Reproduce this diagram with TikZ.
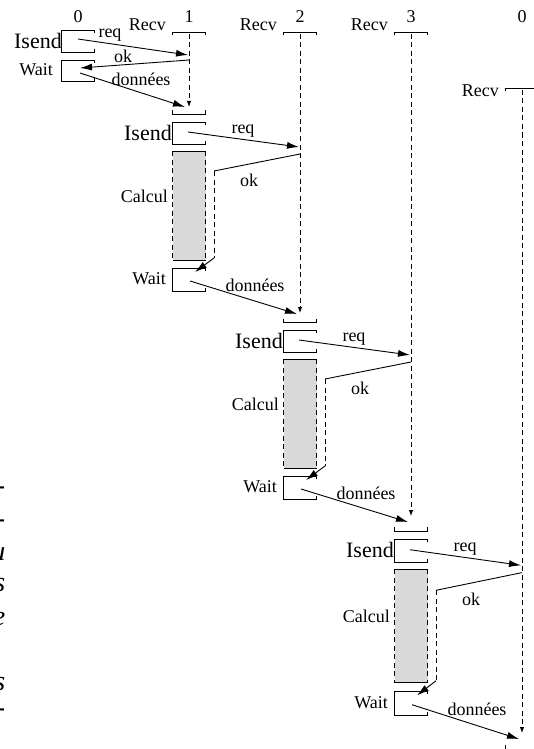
\documentclass[tikz,border=0pt]{standalone}
\usepackage{fontspec}
\setmainfont{Liberation Serif}
\usetikzlibrary{arrows.meta}
\newcommand\OpBox[2]{\draw[ln] (16.5,{#1+3}) -- (16.5,#1) -- (-16.5,#1) -- (-16.5,#2) -- (16.5,#2) -- (16.5,{#2-3});}
\newcommand\BotBr[1]{\draw[ln] (-16.5,{#1-3.5}) -- (-16.5,#1) -- (16.5,#1) -- (16.5,{#1-3.5});}
\newcommand\TopBr[1]{\draw[ln] (-16.5,{#1+3.5}) -- (-16.5,#1) -- (16.5,#1) -- (16.5,{#1+3.5});}
\newcommand\Round[4]{%
\begin{scope}[shift={(#2,#3)},yscale=#4]
\BotBr{0}
\OpBox{8}{30}
\fill[calc] (-16.5,37) rectangle (16.5,146);
\draw[ln] (-16.5,37) -- (16.5,37) (-16.5,146) -- (16.5,146);
\draw[dsh] (-16.5,37) -- (-16.5,146) (16.5,37) -- (16.5,146);
\OpBox{154}{177}
\node[big,anchor=east] (#1isend) at (-17,18.5) {Isend};
\node[anchor=east] (#1calc) at (-21,82) {Calcul};
\node[anchor=east] (#1wait) at (-23,165) {Wait};
\coordinate (#1rq0) at (-1,18);
\coordinate (#1rq1) at (110,33);
\coordinate (#1ok0) at (111,40);
\coordinate (#1ok1) at (25,57);
\coordinate (#1ok2) at (25,144);
\coordinate (#1ok3) at (6,158);
\coordinate (#1dn0) at (1,167);
\coordinate (#1dn1) at (108,200);
\draw[msg] (#1rq0) -- (#1rq1);
\draw[ln] (#1ok0) -- (#1ok1);
\draw[dsh] (#1ok1) -- (#1ok2);
\draw[msg] (#1ok2) -- (#1ok3);
\draw[msg] (#1dn0) -- (#1dn1);
\node (#1req) at (54,17) {req};
\node (#1ok) at (60,66) {ok};
\node (#1don) at (66,171) {données};
\end{scope}}
\begin{document}
\begin{tikzpicture}[x=1pt,y=-1pt,
  every node/.style={inner sep=0pt, font=\fontsize{18}{21}\selectfont},
  big/.style={font=\fontsize{22}{25}\selectfont},
  ln/.style={line width=0.9pt},
  msg/.style={line width=0.9pt, -{Latex[length=12pt,width=7pt]}},
  rcv/.style={line width=0.9pt, dash pattern=on 5pt off 3.5pt, -{Latex[length=6pt,width=4.5pt]}},
  dsh/.style={line width=0.9pt, dash pattern=on 5pt off 3.5pt},
  calc/.style={fill=black!15},
  margin/.style={font=\fontsize{28}{32}\selectfont\itshape, anchor=base east}
]
\useasboundingbox (0,0) rectangle (534,749);

% column headers
\node (h0) at (78,17) {0};
\node (h1) at (189,17) {1};
\node (h2) at (300,17) {2};
\node (h3) at (411,17) {3};
\node (h4) at (522,17) {0};

% Recv top brackets
\begin{scope}[shift={(189,0)}]\TopBr{32}\end{scope}
\begin{scope}[shift={(300,0)}]\TopBr{32}\end{scope}
\begin{scope}[shift={(411,0)}]\TopBr{32}\end{scope}
\begin{scope}[shift={(522,0)}]\TopBr{88}\end{scope}
\node[anchor=base east] (rv1) at (166,31) {Recv};
\node[anchor=base east] (rv2) at (277,31) {Recv};
\node[anchor=base east] (rv3) at (388,31) {Recv};
\node[anchor=base east] (rv4) at (499,97) {Recv};

% Recv dashed waits
\coordinate (c1a) at (189,34); \coordinate (c1b) at (189,107);
\coordinate (c2a) at (300,34); \coordinate (c2b) at (300,313);
\coordinate (c3a) at (411,34); \coordinate (c3b) at (411,516);
\coordinate (c4a) at (522,90); \coordinate (c4b) at (522,733);
\draw[rcv] (c1a) -- (c1b);
\draw[rcv] (c2a) -- (c2b);
\draw[rcv] (c3a) -- (c3b);
\draw[rcv] (c4a) -- (c4b);

% first round, process 0
\begin{scope}[shift={(78,0)}]
\OpBox{30}{52}
\OpBox{60}{81}
\end{scope}
\node[big,anchor=east] (i0) at (62,41) {Isend};
\node[anchor=east] (w0) at (53,70) {Wait};
\coordinate (a0) at (78,39); \coordinate (a1) at (188,55);
\coordinate (b0) at (189,60); \coordinate (b1) at (80,68);
\coordinate (d0) at (80,73); \coordinate (d1) at (185,107);
\draw[msg] (a0) -- (a1);
\draw[msg] (b0) -- (b1);
\draw[msg] (d0) -- (d1);
\node (l0) at (110,35) {req};
\node (l1) at (123,56) {ok};
\node (l2) at (141,79) {données};

% rounds
\Round{r1}{189}{114}{1}
\Round{r2}{300}{322}{1}
\Round{r3}{411}{531}{1.04}

% last bracket (cut at bottom)
\draw[ln] (505.5,745) -- (505.5,751) -- (538.5,751);

% clipped margin text from the page
\node[margin] (m1) at (5.5,494.5) {-};
\node[margin] (m2) at (5.5,527.5) {-};
\node[margin] (m3) at (5.5,560) {u};
\node[margin] (m4) at (5.5,591) {s};
\node[margin] (m5) at (5.5,625) {e};
\node[margin] (m6) at (5.5,690) {s};
\node[margin] (m7) at (5.5,716.5) {-};
\end{tikzpicture}
\end{document}
